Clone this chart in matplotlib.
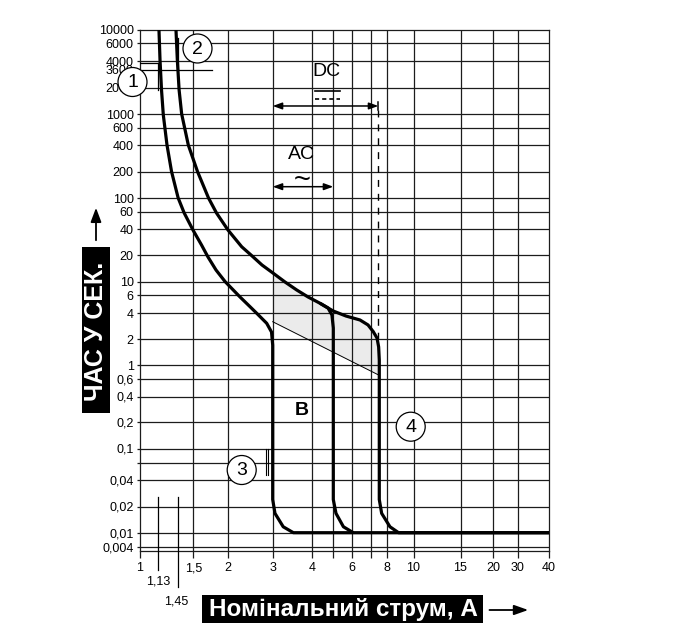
import numpy as np
import matplotlib
matplotlib.use("Agg")
import matplotlib.pyplot as plt
from matplotlib.patches import Ellipse, Rectangle, FancyArrowPatch
from matplotlib.lines import Line2D
from matplotlib.ticker import NullLocator

plt.rcParams['font.family'] = ['Liberation Sans', 'DejaVu Sans']

W, H = 680, 630

# ---------------- data ----------------
x_ticks = [1, 1.5, 2, 3, 4, 5, 6, 7, 8, 10, 15, 20, 30, 40]
x_tick_labels = ['1', '1,5', '2', '3', '4', '', '6', '', '8', '10', '15', '20', '30', '40']
y_ticks = [10000, 6000, 4000, 3600, 2000, 1000, 600, 400, 200, 100, 60, 40, 20, 10,
           6, 4, 2, 1, 0.6, 0.4, 0.2, 0.1, 0.06, 0.04, 0.02, 0.01, 0.004]
y_tick_labels = ['10000', '6000', '4000', '3600', '2000', '1000', '600', '400', '200', '100',
                 '60', '40', '20', '10', '6', '4', '2', '1', '0,6', '0,4', '0,2', '0,1', '',
                 '0,04', '0,02', '0,01', '0,004']
x_grid = [1.5, 2, 3, 4, 5, 6, 7, 8, 10, 15, 20, 30]
y_grid = [6000, 4000, 2000, 1000, 600, 400, 200, 100, 60, 40, 20, 10, 6, 4, 2, 1,
          0.6, 0.4, 0.2, 0.1, 0.06, 0.04, 0.02, 0.01, 0.004]

# lower boundary curve (instantaneous trip at 3 In)
low_I = [1.151, 1.166, 1.188, 1.215, 1.272, 1.346, 1.452, 1.471, 1.499, 1.606, 1.694, 1.811,
         1.951, 2.23, 2.442, 2.595, 2.841, 2.968, 3.0, 3.0, 3.05, 3.24, 3.49, 40]
low_t = [10000, 4090, 1900, 973, 400, 200, 101, 58.6, 38.9, 26.1, 19.0, 13.5, 10, 5.74,
         4.61, 3.97, 3.04, 2.41, 1.7, 0.024, 0.0167, 0.0117, 0.01, 0.01]

# upper boundary curve (DC, up to ~7.5 In)
up_I = [1.423, 1.447, 1.455, 1.463, 1.484, 1.553, 1.701, 1.818, 2.0, 2.265, 2.464, 2.722,
        3.013, 3.283, 3.577, 3.886, 4.35, 4.73, 5.0, 5.648, 6.40, 6.844, 7.153, 7.38, 7.48,
        7.52, 7.52, 7.67, 8.22, 8.83, 40]
up_t = [10000, 4090, 1900, 1010, 400, 200, 101, 58.6, 38.9, 24.9, 20, 15.4, 12.4, 9.81,
        7.25, 5.74, 4.98, 4.48, 4.18, 3.69, 3.32, 2.91, 2.43, 2.05, 1.62, 1.14, 0.024,
        0.0167, 0.0117, 0.01, 0.01]

# AC branch (5 In)
ac_I = [4.35, 4.73, 4.93, 5.0, 5.0, 5.13, 5.51, 6.05]
ac_t = [4.98, 4.48, 3.79, 2.68, 0.024, 0.0167, 0.0117, 0.01]

# thin diagonal line
thin_I = [3.0, 7.5]
thin_t = [3.17, 0.69]

# ---------------- custom nomographic scales (layout) ----------------
X_ANCHOR_V = [1, 1.13, 1.45, 1.5, 2, 3, 4, 5, 6, 7, 8, 10, 15, 20, 30, 40]
X_ANCHOR_P = [139.5, 157.5, 177.5, 193.3, 228, 272.7, 312, 333.3, 352.3, 370.7, 386.7,
              413.5, 460.5, 493.3, 517.5, 549]
Y_ANCHOR_V = [0.003, 0.004, 0.01, 0.02, 0.04, 0.06, 0.1, 0.2, 0.4, 0.6, 1, 2, 4, 6, 10, 20,
              40, 60, 100, 200, 400, 600, 1000, 2000, 3600, 4000, 6000, 10000]
Y_ANCHOR_PIX = [551, 547, 532.7, 506.5, 480, 463.3, 448.5, 421.5, 396.5, 379, 365, 339, 313,
                295, 281.5, 255, 229, 212, 198.3, 171.5, 145, 127.5, 114.3, 88, 70, 61, 43.3, 30]


def make_scale(vals, pos):
    lv = np.log10(np.asarray(vals, float))
    ps = np.asarray(pos, float)
    s0 = (ps[1] - ps[0]) / (lv[1] - lv[0])
    s1 = (ps[-1] - ps[-2]) / (lv[-1] - lv[-2])

    def fwd(v):
        v = np.asarray(v, float)
        with np.errstate(divide='ignore', invalid='ignore'):
            l = np.log10(np.where(v > 0, v, np.nan))
            out = np.interp(l, lv, ps)
            out = np.where(l < lv[0], ps[0] + (l - lv[0]) * s0, out)
            out = np.where(l > lv[-1], ps[-1] + (l - lv[-1]) * s1, out)
        return out

    def inv(p):
        p = np.asarray(p, float)
        with np.errstate(invalid='ignore', over='ignore'):
            l = np.interp(p, ps, lv)
            l = np.where(p < ps[0], lv[0] + (p - ps[0]) / s0, l)
            l = np.where(p > ps[-1], lv[-1] + (p - ps[-1]) / s1, l)
        return 10 ** l

    return fwd, inv


def P(x, y):
    return (x / W, 1 - y / H)


fig = plt.figure(figsize=(W / 100, H / 100), dpi=100)
fig.patch.set_facecolor('white')
ax = fig.add_axes([139.5 / W, 1 - 551 / H, (549 - 139.5) / W, (551 - 30) / H])
ax.set_xscale('function', functions=make_scale(X_ANCHOR_V, X_ANCHOR_P))
ax.set_yscale('function', functions=make_scale(Y_ANCHOR_V, [551 - p for p in Y_ANCHOR_PIX]))
ax.set_xlim(1, 40)
ax.set_ylim(0.003, 10000)

gcol = '#1c1c1c'
for v in x_grid:
    ax.axvline(v, color=gcol, lw=0.9, zorder=1)
for v in y_grid:
    ax.axhline(v, color=gcol, lw=0.9, zorder=1)

ax.set_xticks(x_ticks)
ax.set_xticklabels(x_tick_labels)
ax.set_yticks(y_ticks)
ax.set_yticklabels(y_tick_labels)
ax.xaxis.set_minor_locator(NullLocator())
ax.yaxis.set_minor_locator(NullLocator())
ax.tick_params(axis='x', direction='out', length=5, width=0.9, pad=3.2, labelsize=9,
               color=gcol)
ax.tick_params(axis='y', direction='out', length=2.2, width=0.9, pad=2, labelsize=9,
               color=gcol)
for s in ax.spines.values():
    s.set_linewidth(0.9)
    s.set_color(gcol)

# shaded zone between upper curve and thin line
upI = np.array(up_I)
upT = np.array(up_t)
m = (upI >= 3.0) & (upT >= 1.0)
poly_I = [3.0] + list(upI[m]) + [thin_I[1], thin_I[0]]
poly_t = [upT[m][0]] + list(upT[m]) + [thin_t[1], thin_t[0]]
ax.fill(poly_I, poly_t, color='#ebebeb', lw=0, zorder=0.5)

# curves
kw = dict(color='black', lw=2.3, zorder=4, solid_joinstyle='round', solid_capstyle='butt')
ax.plot(low_I, low_t, **kw)
ax.plot(up_I, up_t, **kw)
ax.plot(ac_I, ac_t, **kw)
ax.plot(thin_I, thin_t, color='black', lw=0.7, zorder=3)

# DC annotation
arr = dict(arrowstyle='<|-|>,head_length=0.55,head_width=0.2', color='black', lw=1.1,
           shrinkA=0, shrinkB=0, mutation_scale=10)
ax.annotate('', xy=(3.0, 1245), xytext=(7.46, 1245), arrowprops=arr, zorder=5)
ax.plot([7.46, 7.46], [1120, 1400], color='black', lw=1.1, zorder=5)
ax.plot([7.46, 7.46], [1120, 2.0], color='black', lw=1.0, ls=(0, (5, 5)), zorder=3)
ax.text(4.67, 3450, 'DC', ha='center', va='center', fontsize=14, zorder=5)
ax.plot([4.13, 5.33], [1862, 1862], color='black', lw=1.2, zorder=5)
ax.plot([4.13, 5.33], [1485, 1485], color='black', lw=1.2, ls=(0, (2.5, 1.8)), zorder=5)

# AC annotation
ax.annotate('', xy=(3.0, 135), xytext=(5.0, 135), arrowprops=arr, zorder=5)
ax.text(3.71, 308, 'AC', ha='center', va='center', fontsize=14, zorder=5)
ax.text(3.71, 160, '~', ha='center', va='center', fontsize=21, zorder=5)

ax.text(3.71, 0.275, 'B', ha='center', va='center', fontsize=14, fontweight='bold', zorder=5)

# markers 1 / 2 (1.13 In, 1.45 In at 1 h)
ax.plot([1.0, 1.13], [3895, 3895], color='black', lw=0.9, zorder=5)
ax.plot([1.13, 1.13], [3895, 1900], color='black', lw=0.9, zorder=5)
ax.plot([-0.019, 0.1763], [3600, 3600], color='black', lw=0.9, zorder=5,
        transform=ax.get_yaxis_transform(), clip_on=False)
ax.plot([1.45, 1.45], [7360, 3600], color='black', lw=0.9, zorder=5)

# bottom markers 1,13 / 1,45
ax.plot([1.13, 1.13], [0.104, -0.036], color='black', lw=0.9, zorder=5,
        transform=ax.get_xaxis_transform(), clip_on=False)
ax.plot([1.45, 1.45], [0.104, -0.069], color='black', lw=0.9, zorder=5,
        transform=ax.get_xaxis_transform(), clip_on=False)
fig.text(*P(158, 582), '1,13', ha='center', va='center', fontsize=9)
fig.text(*P(176, 602), '1,45', ha='center', va='center', fontsize=9)

# marker 3 double line
for xp in (265.7, 268.3):
    fig.add_artist(Line2D([xp / W, xp / W], [1 - 449.3 / H, 1 - 475 / H], color='black',
                          lw=0.8, zorder=4))

# numbered circles
for num, cx, cy in [('1', 132.5, 82), ('2', 197.5, 48.5), ('3', 241.7, 470), ('4', 410.7, 426.7)]:
    fig.add_artist(Ellipse(P(cx, cy), width=29 / W, height=29 / H, transform=fig.transFigure,
                           fc='white', ec='black', lw=0.9, zorder=5))
    fig.text(*P(cx, cy + 0.5), num, ha='center', va='center', fontsize=14, zorder=6)

# y label box + arrow
fig.add_artist(Rectangle(P(81.7, 413.3), (110 - 81.7) / W, (413.3 - 246.7) / H,
                         transform=fig.transFigure, fc='black', ec='none', zorder=5))
fig.text(*P(96, 331), 'ЧАС У СЕК.', rotation=90, ha='center', va='center', color='white',
         fontsize=18, fontweight='bold', zorder=6)
fig.add_artist(FancyArrowPatch(P(96, 243), P(96, 205), transform=fig.transFigure,
                               arrowstyle='-|>,head_length=0.85,head_width=0.32',
                               mutation_scale=10, color='black', lw=1.3, zorder=5))

# x label box + arrow
fig.add_artist(Rectangle(P(201.7, 623.3), (483.3 - 201.7) / W, (623.3 - 595) / H,
                         transform=fig.transFigure, fc='black', ec='none', zorder=5))
fig.text(*P(343, 609.5), 'Номінальний струм, А', ha='center', va='center', color='white',
         fontsize=17.5, fontweight='bold', zorder=6)
fig.add_artist(FancyArrowPatch(P(486.7, 610), P(531, 610), transform=fig.transFigure,
                               arrowstyle='-|>,head_length=0.85,head_width=0.3',
                               mutation_scale=10, color='black', lw=1.3, zorder=5))

fig.savefig('out.png', dpi=100, facecolor='white')
